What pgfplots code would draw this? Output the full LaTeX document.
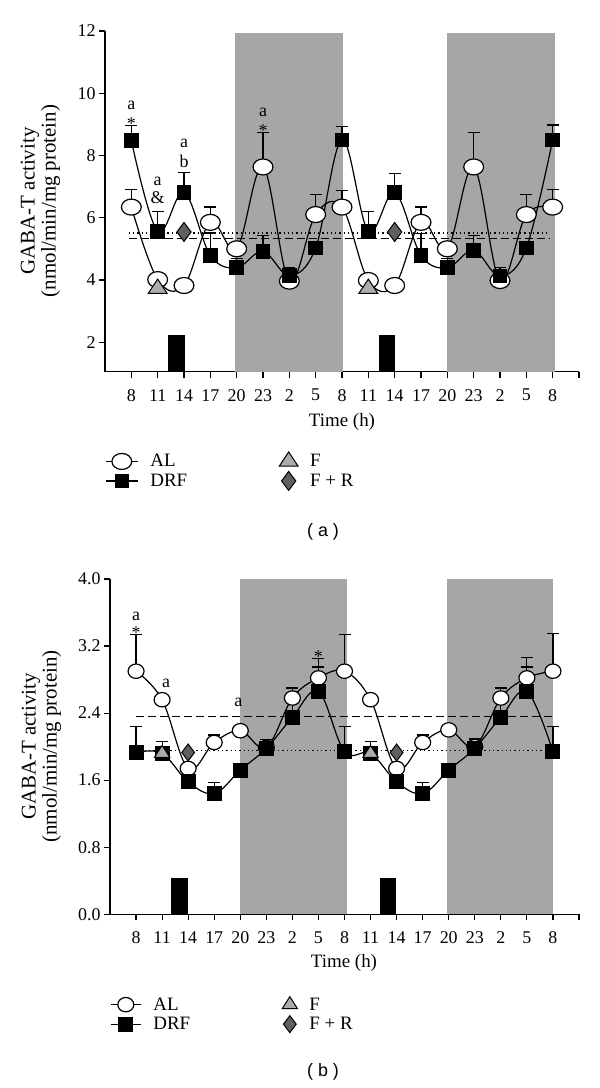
\documentclass[border=0pt]{standalone}
\usepackage{pgfplots}
\usepackage{pgfplotstable}
\pgfplotsset{compat=1.18}
\usepackage{fontspec}
\setmainfont{Liberation Serif}
\newfontfamily\sansf{Liberation Sans}
\newcommand\fs{\fontsize{18}{21}\selectfont}
\newcommand\fl{\fontsize{19}{21}\selectfont}
\newcommand\fy{\fontsize{21}{21}\selectfont}
\definecolor{shade}{RGB}{166,166,166}
\definecolor{ftri}{RGB}{172,172,172}
\definecolor{fdia}{RGB}{95,95,95}

\pgfplotstableread{
x y e
0 6.34 0.56
1 4.01 0.16
2 3.82 0
3 5.85 0.49
4 5.00 0.10
5 7.63 1.11
6 3.96 0.20
7 6.10 0.64
8 6.34 0.54
9 3.98 0.16
10 3.82 0
11 5.85 0.49
12 5.00 0.10
13 7.63 1.11
14 3.98 0.20
15 6.10 0.64
16 6.34 0.56
}\ALa
\pgfplotstableread{
x y e
0 8.48 0.49
1 5.56 0.64
2 6.81 0.64
3 4.79 0.72
4 4.39 0.30
5 4.92 0.50
6 4.14 0.25
7 5.03 0
8 8.50 0.43
9 5.56 0.64
10 6.81 0.62
11 4.79 0.71
12 4.39 0.30
13 4.95 0.47
14 4.12 0.28
15 5.03 0
16 8.50 0.48
}\DRFa
\pgfplotstableread{
x y e
0 2.90 0.44
1 2.56 0
2 1.74 0
3 2.05 0.09
4 2.19 0
5 1.99 0.10
6 2.58 0.12
7 2.82 0.23
8 2.90 0.44
9 2.56 0
10 1.74 0
11 2.05 0.09
12 2.20 0
13 2.00 0.10
14 2.58 0.12
15 2.82 0.24
16 2.90 0.45
}\ALb
\pgfplotstableread{
x y e
0 1.93 0.31
1 1.92 0.14
2 1.58 0
3 1.44 0.13
4 1.72 0
5 1.98 0.11
6 2.35 0.21
7 2.66 0.29
8 1.94 0.30
9 1.92 0.14
10 1.58 0
11 1.44 0.13
12 1.72 0
13 1.98 0.11
14 2.35 0.21
15 2.66 0.29
16 1.94 0.30
}\DRFb

\pgfplotsset{
 myax/.style={
  scale only axis,
  axis lines=left,
  axis line style={-, line width=1.2bp},
  tick align=outside,
  major tick length=6bp,
  tick style={line width=1.2bp, black},
  xmin=-1, xmax=17,
  xtick={0,...,17},
  xticklabels={8,11,14,17,20,23,2,5,8,11,14,17,20,23,2,5,8,{}},
  tick label style={font=\fs},
  xticklabel style={yshift=-8bp},
  /pgf/number format/assume math mode=true,
  legend style={draw=none, fill=none, font=\fl, inner sep=0pt, row sep=2bp,
    nodes={inner xsep=2bp, inner ysep=1bp},
    /tikz/every even column/.append style={column sep=90bp}},
  legend cell align=left,
  legend columns=2, transpose legend,
 },
 errs/.style={error bars/.cd, y dir=plus, y explicit,
   error bar style={line width=1.2bp, black},
   error mark options={rotate=90, mark size=6bp, line width=1.2bp, black}},
 shortimg/.style={legend image code/.code={\draw[mark repeat=2,mark phase=2] plot coordinates {(0bp,0bp)(8bp,0bp)(16bp,0bp)};}},
}

\begin{document}
\begin{tikzpicture}
\path[use as bounding box] (0,0) rectangle (600bp,1088bp);

% ---------------- panel (a)
\begin{axis}[myax, at={(105bp,716.3bp)}, anchor=south west,
  width=474bp, height=340.7bp, ymin=1.05, ymax=12, ytick={2,4,...,12},
  legend style={at={(0,-0.235)}, anchor=north west},
  legend image code/.code={\draw[mark repeat=2,mark phase=2] plot coordinates {(0bp,0bp)(16bp,0bp)(32bp,0bp)};}]
\addplot[fill=shade, draw=none, forget plot] coordinates {(3.93,1.05)(8.04,1.05)(8.04,11.93)(3.93,11.93)};
\addplot[fill=shade, draw=none, forget plot] coordinates {(12.0,1.05)(16.1,1.05)(16.1,11.93)(12.0,11.93)};
\addplot[fill=black, draw=none, forget plot] coordinates {(1.4,1.05)(2.02,1.05)(2.02,2.22)(1.4,2.22)};
\addplot[fill=black, draw=none, forget plot] coordinates {(9.4,1.05)(10.03,1.05)(10.03,2.22)(9.4,2.22)};
\addplot[black, line width=1.3bp, dash pattern=on 1.3bp off 3bp, forget plot] coordinates {(-0.1,5.51)(15.9,5.51)};
\addplot[black, line width=1.3bp, dash pattern=on 8bp off 4bp, forget plot] coordinates {(-0.1,5.32)(15.9,5.32)};
\addplot[black, line width=1.2bp, smooth, tension=0.6, mark=*, mark size=8bp,
  mark options={fill=white, draw=black, xscale=1.24, line width=1.2bp, solid}, errs]
  table[x=x, y=y, y error=e] {\ALa};
\addlegendentry{\hspace{10bp}AL}
\addplot[black, line width=1.2bp, smooth, tension=0.6, mark=square*, mark size=6.8bp,
  mark options={fill=black, draw=black, line width=1bp, solid}, errs]
  table[x=x, y=y, y error=e] {\DRFa};
\addlegendentry{\hspace{10bp}DRF}
\addplot[only marks, shortimg, mark=triangle*, mark size=9.5bp,
  mark options={fill=ftri, draw=black, line width=1bp, xscale=1.15}]
  coordinates {(1,3.72)(9,3.72)};
\addlegendentry{\hspace{10bp}F}
\addplot[only marks, shortimg, mark=diamond*, mark size=9.5bp,
  mark options={fill=fdia, draw=black, line width=1bp}]
  coordinates {(2,5.54)(10,5.54)};
\addlegendentry{\hspace{10bp}F + R}
\node[anchor=base, font=\fs] at (axis cs:0,9.49) {a};
\node[anchor=base, font=\fs] at (axis cs:0,8.84) {*};
\node[anchor=base, font=\fs] at (axis cs:1,7.02) {a};
\node[anchor=base, font=\fs] at (axis cs:1,6.47) {\&};
\node[anchor=base, font=\fs] at (axis cs:2,8.24) {a};
\node[anchor=base, font=\fs] at (axis cs:2,7.61) {b};
\node[anchor=base, font=\fs] at (axis cs:5,9.25) {a};
\node[anchor=base, font=\fs] at (axis cs:5,8.62) {*};
\end{axis}

% ---------------- panel (b)
\begin{axis}[myax, at={(110bp,173.7bp)}, anchor=south west,
  width=469bp, height=335.3bp, ymin=0, ymax=4, ytick={0,0.8,1.6,2.4,3.2,4.0},
  yticklabel style={/pgf/number format/fixed, /pgf/number format/fixed zerofill,
    /pgf/number format/precision=1},
  legend style={at={(0,-0.245)}, anchor=north west, row sep=3bp},
  legend image code/.code={\draw[mark repeat=2,mark phase=2] plot coordinates {(0bp,0bp)(15bp,0bp)(30bp,0bp)};}]
\addplot[fill=shade, draw=none, forget plot] coordinates {(3.98,0)(8.08,0)(8.08,4)(3.98,4)};
\addplot[fill=shade, draw=none, forget plot] coordinates {(11.92,0)(16.0,0)(16.0,4)(11.92,4)};
\addplot[fill=black, draw=none, forget plot] coordinates {(1.36,0)(1.98,0)(1.98,0.43)(1.36,0.43)};
\addplot[fill=black, draw=none, forget plot] coordinates {(9.36,0)(9.98,0)(9.98,0.43)(9.36,0.43)};
\addplot[black, line width=1.3bp, dash pattern=on 1.3bp off 3bp, forget plot] coordinates {(0,1.95)(16,1.95)};
\addplot[black, line width=1.3bp, dash pattern=on 8bp off 4bp, forget plot] coordinates {(0,2.36)(16,2.36)};
\addplot[black, line width=1.2bp, smooth, tension=0.6, mark=*, mark size=7.2bp,
  mark options={fill=white, draw=black, xscale=1.11, line width=1.2bp, solid}, errs]
  table[x=x, y=y, y error=e] {\ALb};
\addlegendentry{\hspace{10bp}AL}
\addplot[black, line width=1.2bp, smooth, tension=0.6, mark=square*, mark size=7bp,
  mark options={fill=black, draw=black, line width=1bp, solid}, errs]
  table[x=x, y=y, y error=e] {\DRFb};
\addlegendentry{\hspace{10bp}DRF}
\addplot[only marks, shortimg, mark=triangle*, mark size=8bp,
  mark options={fill=ftri, draw=black, line width=1bp, xscale=1.1}]
  coordinates {(1,1.92)(9,1.92)};
\addlegendentry{\hspace{10bp}F}
\addplot[only marks, shortimg, mark=diamond*, mark size=8.5bp,
  mark options={fill=fdia, draw=black, line width=1bp}]
  coordinates {(2,1.93)(10,1.93)};
\addlegendentry{\hspace{10bp}F + R}
\node[anchor=base, font=\fs] at (axis cs:0,3.50) {a};
\node[anchor=base, font=\fs] at (axis cs:0,3.29) {*};
\node[anchor=base, font=\fs] at (axis cs:1.15,2.70) {a};
\node[anchor=base, font=\fs] at (axis cs:3.93,2.48) {a};
\node[anchor=base, font=\fs] at (axis cs:7,3.00) {*};
\end{axis}

% ---------------- labels
\node[rotate=90, align=center, font=\fy] at (40.5bp,887bp) {GABA-T activity\\(nmol/min/mg protein)};
\node[rotate=90, align=center, font=\fy] at (41.5bp,341.5bp) {GABA-T activity\\(nmol/min/mg protein)};
\node[font=\fl] at (342bp,666.3bp) {Time (h)};
\node[font=\fl] at (344bp,125bp) {Time (h)};
\node[font=\sansf\fontsize{18}{21}\selectfont] at (323bp,556.3bp) {( a )};
\node[font=\sansf\fontsize{18}{21}\selectfont] at (323bp,16.3bp) {( b )};
\end{tikzpicture}
\end{document}
